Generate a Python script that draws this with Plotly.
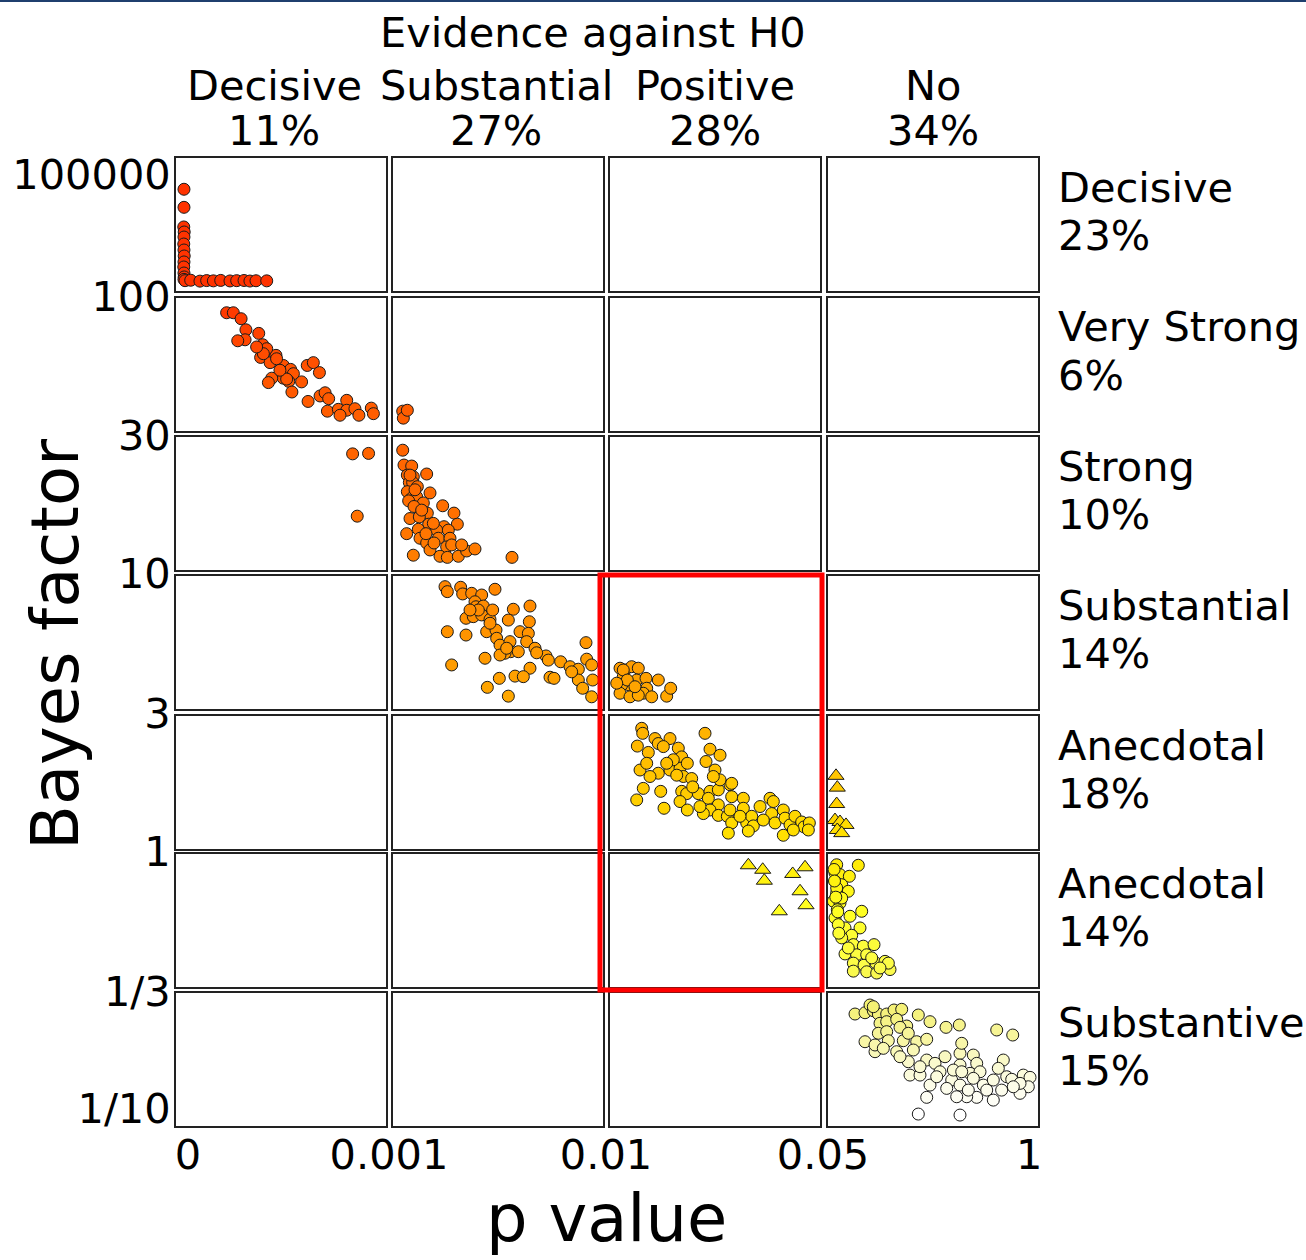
import math
import plotly.graph_objects as go

# ---------------- data ----------------
x_tick_vals = [[0], [0.001], [0.01], [0.05, 1]]
x_tick_text = [["0"], ["0.001"], ["0.01"], ["0.05", "1"]]
bf_bounds = [100000, 100, 30, 10, 3, 1, 1 / 3, 1 / 10]
bf_tick_text = ["100000", "100", "30", "10", "3", "1", "1/3", "1/10"]

col_labels = ["Decisive", "Substantial", "Positive", "No"]
col_pcts = ["11%", "27%", "28%", "34%"]
row_labels = ["Decisive", "Very Strong", "Strong", "Substantial", "Anecdotal", "Anecdotal", "Substantive"]
row_pcts = ["23%", "6%", "10%", "14%", "18%", "14%", "15%"]

p_r1c1 = [3.8e-5, 3.8e-5, 3.7e-5, 3.9e-5, 3.8e-5, 3.7e-5, 3.8e-5, 3.9e-5, 3.8e-5, 3.7e-5, 3.8e-5, 3.9e-5, 3.8e-5,
          4.3e-5, 7.0e-5, 1.14e-4, 1.46e-4, 1.78e-4, 2.13e-4, 2.57e-4, 2.89e-4, 3.24e-4, 3.52e-4, 3.81e-4, 4.32e-4]
bf_r1c1 = [42800, 14600, 4530, 3360, 2490, 1640, 1150, 805, 564, 418, 292, 231, 200,
           185, 190, 180, 186, 183, 188, 182, 185, 187, 181, 184, 183]

p_r2c1 = [2.41e-4, 2.73e-4, 3.10e-4, 3.33e-4, 3.29e-4, 2.94e-4, 3.94e-4, 4.13e-4, 4.24e-4, 4.03e-4, 4.48e-4,
          4.76e-4, 5.11e-4, 5.46e-4, 5.59e-4, 5.11e-4, 4.56e-4, 4.40e-4, 5.37e-4, 5.52e-4, 5.98e-4, 6.25e-4,
          6.54e-4, 6.83e-4, 6.29e-4, 6.86e-4, 7.10e-4, 7.27e-4, 7.21e-4, 7.73e-4, 8.13e-4, 8.13e-4, 8.52e-4,
          8.71e-4, 9.30e-4, 9.40e-4, 7.81e-4, 4.79e-4, 4.32e-4, 5.27e-4, 4.95e-4, 4.16e-4, 3.84e-4]
bf_r2c1 = [87.5, 87.5, 82.9, 75.0, 68.5, 67.9, 72.6, 65.5, 61.7, 58.4, 55.7,
           59.5, 54.3, 52.4, 50.4, 48.4, 48.4, 46.5, 47.0, 42.7, 46.8, 54.3,
           55.7, 50.9, 39.2, 41.2, 42.4, 40.2, 35.9, 36.5, 39.6, 36.2, 36.7,
           34.6, 36.9, 35.1, 34.6, 57.7, 63.2, 48.0, 52.0, 60.4, 64.2]

p_r2c2 = [0.001416, 0.001443, 0.001614]
bf_r2c2 = [35.9, 33.7, 36.2]

p_r3c1 = [8.41e-4, 9.17e-4, 8.63e-4]
bf_r3c1 = [26.1, 26.2, 15.6]

p_r3c2 = [0.001416, 0.001471, 0.001801, 0.001614, 0.001871, 0.002443, 0.001700, 0.001843, 0.002043, 0.001614,
          0.001801, 0.002014, 0.002586, 0.002300, 0.001671, 0.001900, 0.002471, 0.001729, 0.002129, 0.002529,
          0.002086, 0.003129, 0.003614, 0.003757, 0.003186, 0.002871, 0.002943, 0.003371, 0.003443, 0.001586,
          0.002157, 0.002443, 0.002586, 0.003300, 0.003014, 0.003329, 0.003800, 0.004157, 0.004514, 0.001871,
          0.002757, 0.001729, 0.001943, 0.002229, 0.002729, 0.003514, 0.003943, 0.002414, 0.006100]
bf_r3c2 = [26.9, 23.8, 23.6, 21.9, 21.6, 22.1, 20.6, 20.6, 19.9, 19.1,
           18.1, 18.3, 18.9, 17.4, 17.7, 16.9, 16.0, 15.3, 15.5, 14.6,
           14.0, 17.0, 16.0, 14.6, 14.3, 13.9, 13.0, 13.9, 13.0, 13.5,
           13.0, 12.5, 11.8, 12.1, 11.2, 11.1, 11.2, 11.7, 11.9, 11.3,
           12.5, 21.9, 19.4, 16.4, 14.7, 12.3, 12.3, 13.5, 11.1]

p_r4c2 = [0.003229, 0.003329, 0.003900, 0.003986, 0.004371, 0.004800, 0.005371, 0.004514, 0.004557, 0.004871,
          0.004129, 0.004443, 0.004800, 0.005157, 0.006157, 0.006871, 0.005943, 0.006843, 0.003329, 0.004129,
          0.005014, 0.005414, 0.005157, 0.005443, 0.005586, 0.006014, 0.006443, 0.006800, 0.006729, 0.006043,
          0.005800, 0.005586, 0.007086, 0.007557, 0.007657, 0.008186, 0.008586, 0.008943, 0.009271, 0.009300,
          0.009514, 0.003514, 0.004943, 0.006871, 0.006229, 0.006586, 0.005557, 0.007729, 0.007900, 0.008943,
          0.009557, 0.005043, 0.005943, 0.009129, 0.009514, 0.005871, 0.006371, 0.005271, 0.004657, 0.004300,
          0.007157, 0.008657]
bf_r4c2 = [9.08, 8.68, 9.03, 8.50, 8.55, 8.42, 8.87, 7.92, 7.57, 7.62,
           6.82, 6.92, 7.03, 6.75, 7.40, 7.62, 6.71, 6.61, 6.04, 5.86,
           6.04, 6.13, 6.52, 5.69, 5.35, 5.52, 6.04, 5.95, 5.52, 5.04,
           4.97, 4.89, 5.20, 4.85, 4.67, 4.60, 4.40, 4.30, 5.47, 4.71,
           4.47, 4.47, 4.75, 4.34, 4.04, 4.02, 3.96, 4.00, 3.96, 3.90,
           3.90, 3.65, 3.37, 3.62, 3.35, 5.20, 5.04, 7.35, 7.35, 7.35,
           4.99, 4.20]

p_r4c3 = [0.01191, 0.01286, 0.01413, 0.01539, 0.01253, 0.01368, 0.01223, 0.01509, 0.01686, 0.01920, 0.01699,
          0.01634, 0.01794, 0.02080, 0.02156, 0.01191, 0.01381, 0.01539, 0.01253, 0.01330, 0.01476, 0.01128]
bf_r4c3 = [4.34, 4.27, 4.40, 4.34, 4.02, 3.73, 3.73, 3.90, 3.96, 3.90, 3.62,
           3.46, 3.35, 3.37, 3.62, 3.46, 3.35, 3.40, 4.27, 3.90, 3.67, 3.79]

p_r5c3 = [0.01604, 0.01623, 0.01521, 0.01730, 0.01857, 0.01920, 0.02143, 0.02016, 0.01572, 0.01699,
          0.01920, 0.02143, 0.02301, 0.02366, 0.02334, 0.02206, 0.02473, 0.02397, 0.02556, 0.02810,
          0.02905, 0.03096, 0.02829, 0.03000, 0.01634, 0.01509, 0.01966, 0.02029, 0.02366, 0.02461,
          0.02334, 0.02473, 0.02682, 0.02575, 0.02905, 0.02873, 0.03063, 0.03286, 0.03096, 0.03318,
          0.03318, 0.03063, 0.02905, 0.02778, 0.03063, 0.03235, 0.03286, 0.03540, 0.03540, 0.03318,
          0.03254, 0.03604, 0.03699, 0.03730, 0.03858, 0.04048, 0.04111, 0.04080, 0.04301, 0.04143,
          0.04334, 0.04429, 0.04524, 0.04651, 0.04696, 0.04797, 0.04778, 0.04301, 0.04492, 0.03920,
          0.03635, 0.03476, 0.01762, 0.02080, 0.02271, 0.02714, 0.02968]
bf_r5c3 = [2.71, 2.60, 2.34, 2.22, 2.49, 2.39, 2.49, 2.33, 1.92, 2.03,
           1.87, 1.92, 2.30, 2.14, 1.95, 2.09, 2.03, 1.82, 1.79, 2.60,
           2.28, 2.17, 2.06, 1.92, 1.65, 1.50, 1.61, 1.40, 1.61, 1.58,
           1.48, 1.38, 1.58, 1.67, 1.61, 1.52, 1.63, 1.70, 1.77, 1.72,
           1.54, 1.44, 1.38, 1.34, 1.32, 1.31, 1.38, 1.52, 1.40, 1.24,
           1.14, 1.24, 1.31, 1.21, 1.42, 1.52, 1.48, 1.34, 1.38, 1.24,
           1.29, 1.22, 1.31, 1.25, 1.20, 1.24, 1.17, 1.12, 1.17, 1.27,
           1.16, 1.31, 1.82, 2.03, 1.84, 1.42, 1.82]

p_r5c4_tri = [0.0869, 0.0929, 0.0901, 0.0823, 0.1053, 0.1330, 0.0929, 0.1132]
bf_r5c4_tri = [1.83, 1.66, 1.45, 1.27, 1.25, 1.22, 1.17, 1.14]

p_r6c3_tri = [0.03635, 0.03909, 0.03940, 0.04480, 0.04715, 0.04620, 0.04734, 0.04225]
bf_r6c3_tri = [0.911, 0.878, 0.802, 0.848, 0.896, 0.735, 0.655, 0.623]

p_r6c4 = [0.0901, 0.1897, 0.0823, 0.1053, 0.1483, 0.0823, 0.1132, 0.1436, 0.0901, 0.0746,
          0.1053, 0.0929, 0.2054, 0.1514, 0.0823, 0.1284, 0.1975, 0.1593, 0.1132, 0.1668,
          0.2127, 0.2621, 0.1284, 0.1823, 0.2284, 0.1668, 0.2160, 0.2713, 0.3128, 0.1668,
          0.2284, 0.2745, 0.3358, 0.3281, 0.0975, 0.1436, 0.0901, 0.1132, 0.2514, 0.2897,
          0.0780, 0.0860, 0.0950, 0.1000, 0.0800]
bf_r6c4 = [0.915, 0.911, 0.855, 0.843, 0.832, 0.798, 0.776, 0.735, 0.725, 0.677,
           0.667, 0.631, 0.623, 0.598, 0.590, 0.543, 0.543, 0.511, 0.500, 0.473,
           0.467, 0.473, 0.438, 0.435, 0.435, 0.406, 0.399, 0.406, 0.412, 0.380,
           0.378, 0.374, 0.385, 0.406, 0.558, 0.460, 0.755, 0.695, 0.424, 0.390,
           0.880, 0.700, 0.620, 0.520, 0.800]

p_r7c4 = [0.1745, 0.2206, 0.2436, 0.2590, 0.2821, 0.3206, 0.3543, 0.3897, 0.2897, 0.3206,
          0.3667, 0.4128, 0.2821, 0.3206, 0.3819, 0.2206, 0.2667, 0.3280, 0.3667, 0.3971,
          0.4202, 0.4589, 0.5050, 0.4663, 0.5202, 0.5940, 0.6553, 0.4202, 0.4280, 0.4741,
          0.4434, 0.5050, 0.5433, 0.5663, 0.5202, 0.5894, 0.6585, 0.6664, 0.7199, 0.7355,
          0.6585, 0.7046, 0.7507, 0.6203, 0.6585, 0.7199, 0.7660, 0.8277, 0.9015, 0.8581,
          0.8351, 0.8120, 0.8738, 0.8969, 0.9503, 0.9812, 0.9734, 0.9351, 0.8504, 0.7816,
          0.7355, 0.6894, 0.6433, 0.5972, 0.5050, 0.4663, 0.6585, 0.2667, 0.3050, 0.3819,
          0.4741, 0.5511, 0.6280, 0.6968, 0.8120, 0.9351, 0.9043, 0.6664, 0.2590]
bf_r7c4 = [0.2685, 0.2721, 0.2946, 0.2778, 0.2685, 0.2685, 0.2798, 0.2818, 0.2440, 0.2481,
           0.2543, 0.2373, 0.2202, 0.2239, 0.2341, 0.2019, 0.1822, 0.2040, 0.1822, 0.2040,
           0.2202, 0.2019, 0.2070, 0.2658, 0.2481, 0.2341, 0.2398, 0.1643, 0.1432, 0.1432,
           0.1854, 0.1672, 0.1616, 0.1482, 0.1292, 0.1730, 0.1791, 0.1986, 0.1760, 0.1616,
           0.1588, 0.1458, 0.1482, 0.1361, 0.1292, 0.1385, 0.1292, 0.2278, 0.2163, 0.1672,
           0.1535, 0.1361, 0.1408, 0.1371, 0.1432, 0.1399, 0.1270, 0.1187, 0.1227, 0.1227,
           0.1139, 0.1146, 0.1146, 0.1249, 0.1139, 0.0959, 0.0949, 0.1952, 0.1886, 0.1730,
           0.1561, 0.1408, 0.1508, 0.1227, 0.1107, 0.1315, 0.1270, 0.1482, 0.2895]

# (row, col, p values, Bayes factors, marker symbol)
panels = [
    (1, 1, p_r1c1, bf_r1c1, "circle"),
    (2, 1, p_r2c1, bf_r2c1, "circle"),
    (2, 2, p_r2c2, bf_r2c2, "circle"),
    (3, 1, p_r3c1, bf_r3c1, "circle"),
    (3, 2, p_r3c2, bf_r3c2, "circle"),
    (4, 2, p_r4c2, bf_r4c2, "circle"),
    (4, 3, p_r4c3, bf_r4c3, "circle"),
    (5, 3, p_r5c3, bf_r5c3, "circle"),
    (5, 4, p_r5c4_tri, bf_r5c4_tri, "triangle-up"),
    (6, 3, p_r6c3_tri, bf_r6c3_tri, "triangle-up"),
    (6, 4, p_r6c4, bf_r6c4, "circle"),
    (7, 4, p_r7c4, bf_r7c4, "circle"),
]

# ---------------- layout geometry (pixels) ----------------
W, H = 1306, 1260
ML, MR, MT, MB = 176, 268, 158, 134
PW, PH = W - ML - MR, H - MT - MB
col_left_px = [176, 393, 610, 828]
row_top_px = [158, 298, 437, 576, 716, 854, 993]
PANEL_W, PANEL_H = 210, 133
col_label_dx = [-7, -2, 0, 0]


def px2x(px):
    return (px - ML) / PW


def px2y(py):
    return (H - MB - py) / PH


x_ranges = [[0, 0.001], [0.001, 0.01], [0.01, 0.05], [0.05, 1.018]]
x_shift = [12, -4, -4, -5]
y_ranges = [[2, 5.44]]
for r in range(1, 6):
    y_ranges.append([math.log10(bf_bounds[r + 1]), math.log10(bf_bounds[r])])
y_ranges.append([-1.0716, math.log10(1 / 3) + 1e-9])
y_tickvals = [[100000], [100], [30], [10], [3], [1], [1 / 3, 1 / 10]]
y_ticktext = [["100000"], ["100"], ["30"], ["10"], ["3"], ["1"], ["1/3", "1/10"]]
y_shift = [-1, -2, -2, -3, -3, -3, -2]

FONT = "DejaVu Sans"
FS = 41.5
LINE_C = "#222222"

colorscale = [[0.0, "#ffffff"], [0.0333, "#fcfcea"], [0.0667, "#fafad0"], [0.1, "#f8f6a8"],
              [0.1333, "#f5f285"], [0.1667, "#f4f068"], [0.2, "#fcfc48"], [0.2667, "#ffff22"],
              [0.3333, "#ffe600"], [0.4, "#ffcc00"], [0.4667, "#ffb400"], [0.5333, "#ffa000"],
              [0.6333, "#ff8a00"], [0.7333, "#ff7000"], [0.9, "#ff5500"], [1.0, "#ff3300"]]


def axis_id(r, c):
    n = (r - 1) * 4 + c
    return "" if n == 1 else str(n)


fig = go.Figure()
layout = {}
for r in range(1, 8):
    for c in range(1, 5):
        aid = axis_id(r, c)
        x0 = px2x(col_left_px[c - 1])
        x1 = px2x(col_left_px[c - 1] + PANEL_W)
        y1 = px2y(row_top_px[r - 1])
        y0 = px2y(row_top_px[r - 1] + PANEL_H)
        layout["xaxis" + aid] = dict(
            domain=[x0, x1], range=x_ranges[c - 1], anchor="y" + aid,
            showline=True, mirror=True, linecolor=LINE_C, linewidth=2,
            showgrid=False, zeroline=False, ticks="", fixedrange=True,
            showticklabels=(r == 7), tickmode="array",
            tickvals=x_tick_vals[c - 1], ticktext=x_tick_text[c - 1],
            ticklabelshift=x_shift[c - 1], ticklabelstandoff=-9,
            tickfont=dict(family=FONT, size=FS, color="black"),
        )
        layout["yaxis" + aid] = dict(
            domain=[y0, y1], type="log", range=y_ranges[r - 1], anchor="x" + aid,
            showline=True, mirror=True, linecolor=LINE_C, linewidth=2,
            showgrid=False, zeroline=False, ticks="", fixedrange=True,
            showticklabels=(c == 1), tickmode="array",
            tickvals=y_tickvals[r - 1], ticktext=y_ticktext[r - 1],
            ticklabelshift=y_shift[r - 1], ticklabelstandoff=-5,
            tickfont=dict(family=FONT, size=FS, color="black"),
        )
        # an empty trace so that every panel of the grid is drawn
        fig.add_trace(go.Scatter(x=[], y=[], mode="markers", xaxis="x" + aid, yaxis="y" + aid,
                                 showlegend=False, hoverinfo="skip"))

for r, c, pv, bv, sym in panels:
    aid = axis_id(r, c)
    fig.add_trace(go.Scatter(
        x=pv, y=bv, mode="markers", xaxis="x" + aid, yaxis="y" + aid,
        showlegend=False, cliponaxis=False,
        marker=dict(symbol=sym, size=14 if sym != "circle" else 12,
                    color=[math.log10(b) for b in bv], colorscale=colorscale,
                    cmin=-1, cmax=2, line=dict(color="#1a1a1a", width=1)),
    ))

annotations = []


def label(x, y, text, size=FS, **kw):
    d = dict(x=x, y=y, xref="paper", yref="paper", text=text, showarrow=False,
             yanchor="middle", font=dict(family=FONT, size=size, color="black"))
    d.update(kw)
    annotations.append(d)


# column headers
for c in range(4):
    xc = px2x(col_left_px[c] + PANEL_W / 2 + col_label_dx[c])
    label(xc, px2y(85), col_labels[c], xanchor="center")
    label(xc, px2y(130), col_pcts[c], xanchor="center")
label(px2x(593), px2y(33), "Evidence against H0", xanchor="center")
# row labels
for r in range(7):
    label(px2x(1056), px2y(row_top_px[r] + 29), row_labels[r], xanchor="left")
    label(px2x(1056), px2y(row_top_px[r] + 77), row_pcts[r], xanchor="left")
# axis titles
label(px2x(55), px2y(645), "Bayes factor", size=65.5, textangle=-90, xanchor="center")
label(px2x(606), px2y(1218), "p value", size=65.5, xanchor="center")

shapes = [
    # highlight of the "Positive" column, rows Substantial..Anecdotal
    dict(type="rect", xref="paper", yref="paper",
         x0=px2x(col_left_px[2] - 10), x1=px2x(col_left_px[2] + PANEL_W + 2),
         y0=px2y(row_top_px[5] + PANEL_H + 3), y1=px2y(row_top_px[3] - 1),
         line=dict(color="#ff0000", width=5), fillcolor="rgba(0,0,0,0)", layer="above"),
    # thin frame line at the top of the picture
    dict(type="rect", xref="paper", yref="paper",
         x0=px2x(0), x1=px2x(W), y0=px2y(2), y1=px2y(0),
         line=dict(width=0), fillcolor="#1f3f6e", layer="above"),
]

fig.update_layout(
    width=W, height=H,
    margin=dict(l=ML, r=MR, t=MT, b=MB, pad=0),
    paper_bgcolor="white", plot_bgcolor="white",
    annotations=annotations, shapes=shapes,
    font=dict(family=FONT, color="black"),
    **layout,
)

fig.write_html("out.html")
